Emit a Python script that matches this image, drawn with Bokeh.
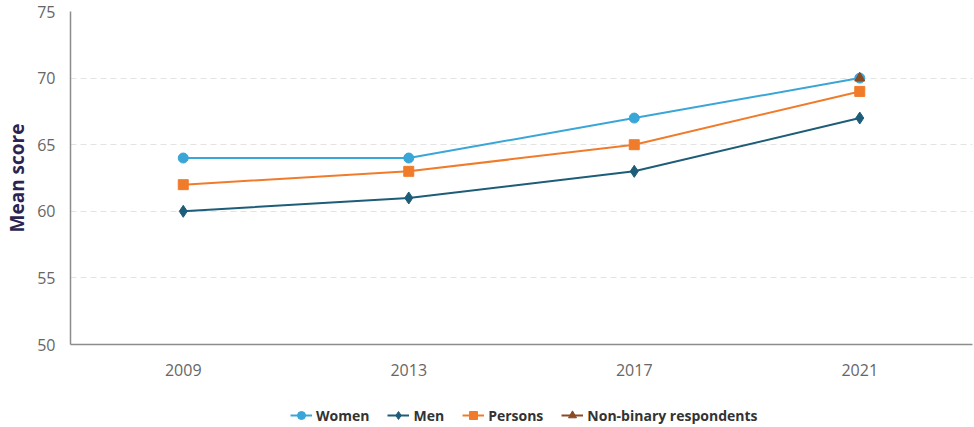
from bokeh.plotting import figure
from bokeh.layouts import column
from bokeh.models import Legend, LegendItem, FactorRange, SingleIntervalTicker
from bokeh.embed import file_html
from bokeh.resources import INLINE

years = ["2009", "2013", "2017", "2021"]
women = [64, 64, 67, 70]
men = [60, 61, 63, 67]
persons = [62, 63, 65, 69]
nb_years = ["2021"]
nonbinary = [70]
series_names = ["Women", "Men", "Persons", "Non-binary respondents"]

p = figure(frame_width=902, frame_height=333, x_range=FactorRange(*years), y_range=(50, 75),
           output_backend="svg", toolbar_location=None,
           min_border_left=40, min_border_right=2, min_border_top=11, min_border_bottom=52)
p.outline_line_color = None
p.background_fill_color = "white"

font = "Open Sans"
for ax in (p.xaxis[0], p.yaxis[0]):
    ax.major_tick_line_color = None
    ax.minor_tick_line_color = None
    ax.axis_line_color = "#8c8c8c"
    ax.axis_line_width = 1.5
    ax.major_label_text_font = font
    ax.major_label_text_font_size = "16px"
    ax.major_label_text_color = "#666666"

p.yaxis.ticker = SingleIntervalTicker(interval=5)
p.yaxis.axis_label = "Mean score"
p.yaxis.axis_label_text_font = font
p.yaxis.axis_label_text_font_style = "bold"
p.yaxis.axis_label_text_font_size = "19px"
p.yaxis.axis_label_text_color = "#2b2452"
p.yaxis.axis_label_standoff = 4
p.yaxis.major_label_standoff = 9
p.xaxis.major_label_standoff = 13

p.xgrid.grid_line_color = None
p.ygrid.grid_line_color = "#e3e3e3"
p.ygrid.grid_line_dash = "6 4"

c_w, c_m, c_p, c_n = "#3aa6d8", "#1d5d78", "#f07c2b", "#8a4a22"
markers = ["circle", "diamond", "square", "triangle"]
msizes = [10, 12, 10, 10]
colors = [c_w, c_m, c_p, c_n]

for xs, ys, col, mk, ms in [(years, women, c_w, "circle", 10), (years, men, c_m, "diamond", 12),
                            (years, persons, c_p, "square", 10), (nb_years, nonbinary, c_n, "triangle", 10)]:
    p.line(xs, ys, line_color=col, line_width=2)
    p.scatter(xs, ys, marker=mk, size=ms, color=col)

# legend strip below the chart (its key glyphs sit outside the strip's visible range)
lg = figure(frame_width=902, frame_height=31, x_range=(0, 1), y_range=(0, 1),
            x_axis_type=None, y_axis_type=None, output_backend="svg", toolbar_location=None,
            min_border_left=70, min_border_right=2, min_border_top=0, min_border_bottom=0)
lg.outline_line_color = None
lg.grid.visible = False
hidden_x = [-5, -4]
hidden_y = [-5, -4]
items = []
for name, col, mk, ms in zip(series_names, colors, markers, msizes):
    r1 = lg.line(hidden_x, hidden_y, line_color=col, line_width=2)
    r2 = lg.scatter(hidden_x, hidden_y, marker=mk, size=ms, color=col)
    items.append(LegendItem(label=name, renderers=[r1, r2]))

legend = Legend(items=items, orientation="horizontal", location=(220, 2))
legend.label_text_font = font
legend.label_text_font_style = "bold"
legend.label_text_font_size = "14px"
legend.label_text_color = "#333333"
legend.border_line_color = None
legend.background_fill_alpha = 0
legend.spacing = 18
legend.glyph_width = 22
legend.label_standoff = 4
legend.margin = 0
legend.padding = 3
lg.add_layout(legend, "center")

layout = column(p, lg, spacing=0)
open("out.html", "w").write(file_html(layout, INLINE))
